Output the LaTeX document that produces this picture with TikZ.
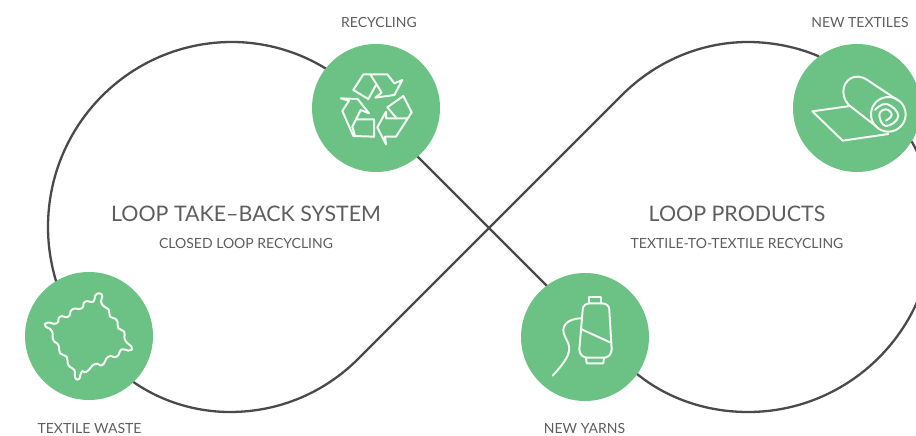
\documentclass[tikz,border=0pt]{standalone}
\usepackage{fontspec}
\setmainfont{Lato}
\usetikzlibrary{backgrounds}
\definecolor{loopgreen}{HTML}{6CC184}
\definecolor{loopline}{HTML}{4A4A4A}
\definecolor{looptext}{HTML}{5E5E5E}
\tikzset{
  stage/.style={circle,fill=loopgreen,minimum size=128pt,inner sep=0pt},
  label/.style={text=looptext,font=\fontsize{14}{16}\selectfont,inner sep=0pt},
  title/.style={text=looptext,font=\fontsize{21.4}{25}\selectfont,inner sep=0pt},
  icon/.style={draw=white!92!loopgreen,line width=2pt,line join=round,line cap=round},
  loopline/.style={draw=loopline,line width=2.3pt}
}
\begin{document}
\begin{tikzpicture}[x=1pt,y=-1pt]
\clip (0,0) rectangle (916,436);

% Stages
\node[stage] (recycling) at (376,108) {};
\node[stage] (textiles) at (857,108) {};
\node[stage] (waste) at (89,336) {};
\node[stage] (yarns) at (585,337) {};

% Labels
\node[label] (recyclinglabel) at (379,22) {RECYCLING};
\node[label] (textileslabel) at (860,22) {NEW TEXTILES};
\node[label] (wastelabel) at (89.5,428) {TEXTILE WASTE};
\node[label] (yarnslabel) at (584.5,428) {NEW YARNS};
\node[title] (lefttitle) at (246,214) {LOOP TAKE–BACK SYSTEM};
\node[label] (leftsub) at (246,243) {CLOSED LOOP RECYCLING};
\node[title] (righttitle) at (737,214) {LOOP PRODUCTS};
\node[label] (rightsub) at (737,243) {TEXTILE-TO-TEXTILE RECYCLING};

% Figure of eight
\begin{pgfonlayer}{background}
\draw[loopline] (waste.center) -- (56,281) .. controls (51,264) and (48,246) .. (48,227)
  .. controls (48,125) and (130,42) .. (232,42)
  .. controls (266,42) and (300,52) .. (328,70) -- (recycling.center);
\draw[loopline] (recycling.center) -- (417,156) -- (550,289) -- (yarns.center);
\draw[loopline] (yarns.center) -- (637,374) .. controls (668,399) and (707,412) .. (748,412)
  .. controls (850,412) and (933,329) .. (933,227)
  .. controls (933,195) and (925,165) .. (912,142) -- (textiles.center);
\draw[loopline] (textiles.center) -- (818,56) .. controls (797,47) and (772,42) .. (748,42)
  .. controls (700,42) and (655,62) .. (622,95)
  -- (358,359) .. controls (325,392) and (280,412) .. (230,412)
  .. controls (195,412) and (160,401) .. (132,381) -- (waste.center);
\end{pgfonlayer}

% Recycling icon
\begin{scope}[shift={(300,30)},scale=1/3]
\draw[icon] (160,180) -- (190,133) -- (262,133) -- (283,160) -- (307,150) -- (283,195) -- (226,203) -- (245,188) -- (212,135);
\draw[icon] (160,180) -- (205,207) -- (228,165);
\draw[icon] (182,240) -- (207,250) -- (173,207) -- (122,205) -- (147,212) -- (127,243) -- (160,318) -- (222,320) -- (222,268) -- (170,268);
\draw[icon] (182,240) -- (157,290) -- (165,318);
\draw[icon] (262,232) -- (310,198) -- (335,247) -- (288,320) -- (255,320) -- (258,343) -- (232,292) -- (258,245) -- (258,265) -- (325,265);
\draw[icon] (262,232) -- (290,265);
\end{scope}

% Roll icon
\begin{scope}[shift={(780,30)},scale=1/3]
\draw[icon] (210,228) -- (97,244) -- (188,332) -- (325,312);
\draw[icon] (355,212) -- (262,150) .. controls (225,125) and (190,150) .. (190,185) .. controls (190,205) and (200,222) .. (215,232) -- (290,290);
\draw[icon] (325,253) circle (52);
\draw[icon] plot[smooth,tension=.8] coordinates {(318,272) (335,255) (318,238) (298,255) (318,288) (355,258) (320,222) (285,240)};
\end{scope}

% Waste icon
\begin{scope}[shift={(15,260)},scale=1/3]
\draw[icon] plot[smooth cycle,tension=1] coordinates {(252,100) (262,108) (258,125) (268,140) (282,150) (285,170) (305,180) (310,205) (328,215) (330,240) (350,262) (340,272) (320,268) (305,290) (280,290) (262,315) (240,312) (215,335) (200,335) (192,357) (180,352) (178,330) (160,315) (155,290) (135,280) (130,255) (115,240) (110,212) (92,200) (97,188) (125,190) (135,170) (160,170) (172,148) (200,145) (210,125) (235,125) (240,108)};
\end{scope}

% Spool icon
\begin{scope}[shift={(510,260)},scale=1/3]
\draw[icon] (218,150) .. controls (218,135) and (230,130) .. (240,130) -- (275,130) .. controls (290,130) and (298,138) .. (298,150) -- (305,268) .. controls (305,282) and (295,293) .. (282,293) -- (232,293) .. controls (218,293) and (208,282) .. (208,268) -- cycle;
\draw[icon] (215,208) -- (300,247);
\draw[icon] (237,130) -- (237,112) -- (272,112) -- (272,130);
\draw[icon] (228,293) -- (230,310) -- (280,310) -- (282,293);
\draw[icon] (215,175) .. controls (170,175) and (150,200) .. (165,230) .. controls (180,260) and (195,275) .. (128,347);
\end{scope}
\end{tikzpicture}
\end{document}
